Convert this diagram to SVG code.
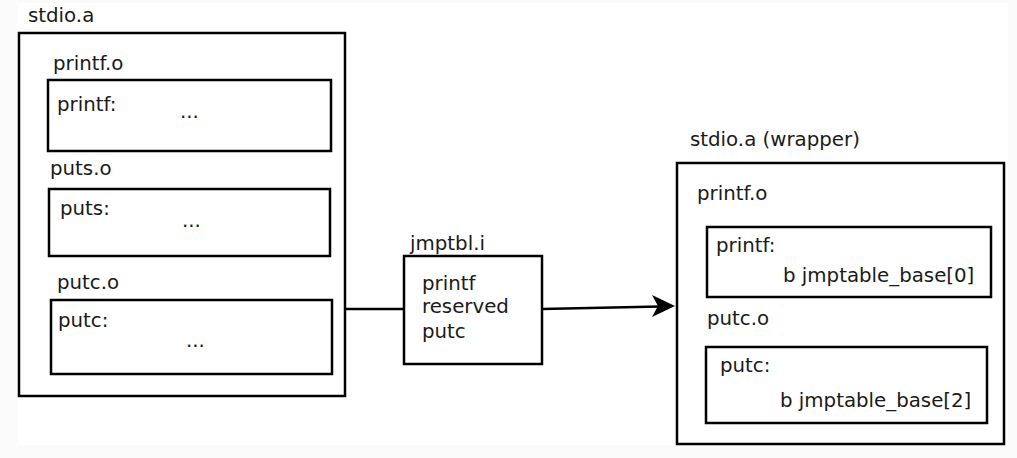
<svg xmlns="http://www.w3.org/2000/svg" width="1017" height="458" viewBox="0 0 1017 458">
<style>
.box{fill:none;stroke:#000;stroke-width:2.5}
.t{font-family:"DejaVu Sans",sans-serif;font-size:19.8px;fill:#1a1a1a}
.c{fill:none;stroke:#000;stroke-width:2.5}
</style>
<rect x="0" y="0" width="1017" height="458" fill="#fbfbfb"/>
<rect x="18" y="3" width="990" height="442" fill="#fff"/>
<g id="stdio">
<text class="t" x="28" y="22">stdio.a</text>
<rect class="box" x="19" y="33" width="326" height="363"/>
</g>
<g id="printf_o">
<text class="t" x="53" y="70">printf.o</text>
<rect class="box" x="48" y="80" width="283" height="71"/>
<text class="t" x="57" y="111">printf:</text>
<text class="t" x="180" y="118">...</text>
</g>
<g id="puts_o">
<text class="t" x="50" y="175">puts.o</text>
<rect class="box" x="49" y="189" width="281" height="67"/>
<text class="t" x="60" y="215">puts:</text>
<text class="t" x="182" y="227">...</text>
</g>
<g id="putc_o">
<text class="t" x="57" y="289">putc.o</text>
<rect class="box" x="51" y="300" width="281" height="74"/>
<text class="t" x="58" y="327">putc:</text>
<text class="t" x="186" y="347">...</text>
</g>
<g id="jmptbl">
<text class="t" x="410" y="250">jmptbl.i</text>
<rect class="box" x="404" y="256" width="138" height="108"/>
<text class="t" x="422" y="290">printf</text>
<text class="t" x="422" y="313">reserved</text>
<text class="t" x="422" y="338">putc</text>
</g>
<g id="wrapper">
<text class="t" x="690" y="146">stdio.a (wrapper)</text>
<rect class="box" x="677" y="163" width="327" height="281"/>
</g>
<g id="w_printf_o">
<text class="t" x="697" y="200">printf.o</text>
<rect class="box" x="707" y="227" width="284" height="70"/>
<text class="t" x="716" y="252">printf:</text>
<text class="t" x="783" y="282">b jmptable_base[0]</text>
</g>
<g id="w_putc_o">
<text class="t" x="707" y="325">putc.o</text>
<rect class="box" x="706" y="347" width="281" height="76"/>
<text class="t" x="720" y="372">putc:</text>
<text class="t" x="780" y="407">b jmptable_base[2]</text>
</g>
<g id="connectors">
<line class="c" x1="345" y1="309" x2="404" y2="309"/>
<line class="c" x1="542" y1="309" x2="660" y2="306.5"/>
<polygon points="675,306 652,295 658,306 652,317" fill="#000"/>
</g>
</svg>
